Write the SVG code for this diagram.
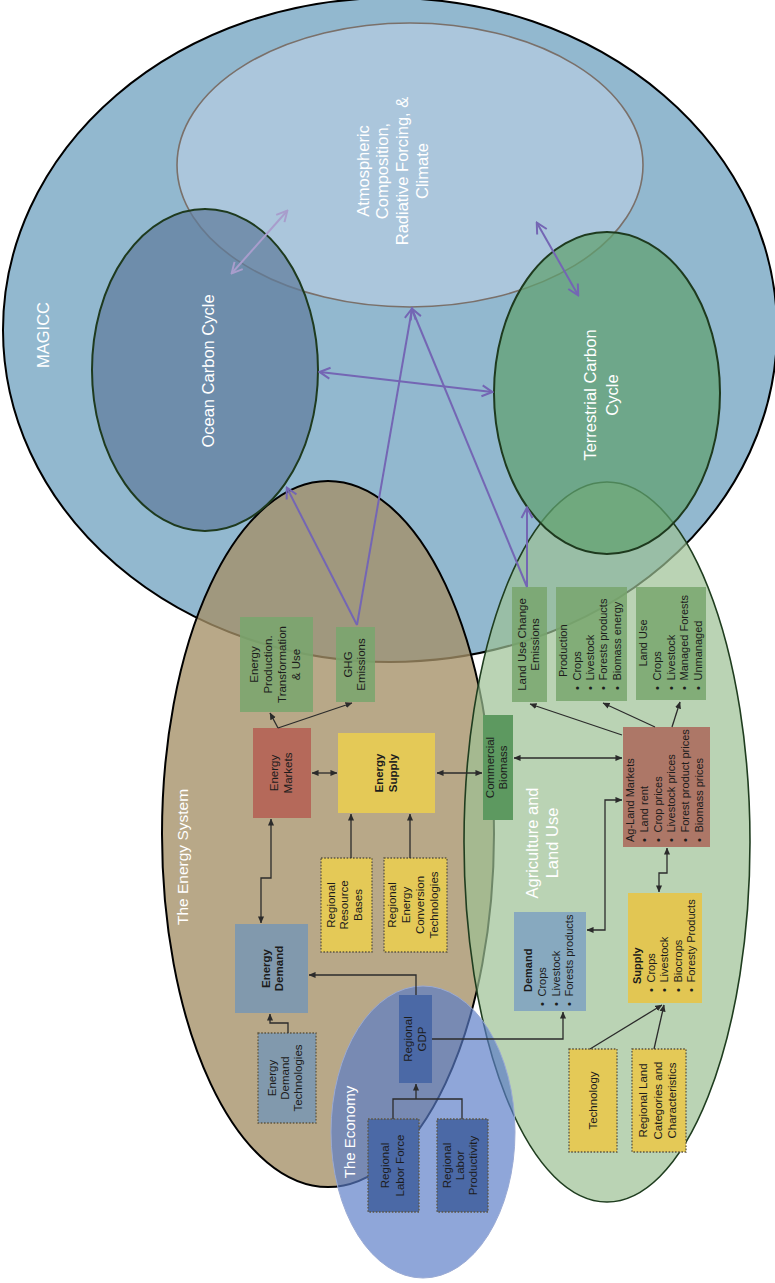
<svg xmlns="http://www.w3.org/2000/svg" width="775" height="1283" viewBox="0 0 775 1283">
<style>
.t{font-family:"Liberation Sans",Arial,Helvetica,sans-serif;fill:#1c1c1c;font-size:11.5px}
.s{font-size:11px}
.b{font-weight:bold}
.w{font-family:"Liberation Sans",Arial,Helvetica,sans-serif;fill:#ffffff;font-size:16.5px}
.c{stroke:#2b2b2b;stroke-width:1.3;fill:none}
.p{stroke:#7466b4;stroke-width:2;fill:none}
.dot{stroke:#5e5640;stroke-width:1.3;stroke-dasharray:1.6 1.6}
.gr{fill:#78a66d;fill-opacity:.85}
.ye{fill:#e4c957}
.bl{fill:#4b69a6}
.gb{fill:#8199ad}
</style>
<defs>
<marker id="ah" viewBox="0 0 8 8" refX="7.5" refY="4" markerWidth="7" markerHeight="7" markerUnits="userSpaceOnUse" orient="auto-start-reverse"><path d="M0,0.5 L8,4 L0,7.5 z" fill="#2b2b2b"/></marker>
<marker id="pa" viewBox="0 0 14 14" refX="12" refY="7" markerWidth="14" markerHeight="14" markerUnits="userSpaceOnUse" orient="auto-start-reverse"><path d="M2,1.5 L12.5,7 L2,12.5" fill="none" stroke="#7466b4" stroke-width="2"/></marker>
<marker id="pl" viewBox="0 0 14 14" refX="12" refY="7" markerWidth="14" markerHeight="14" markerUnits="userSpaceOnUse" orient="auto-start-reverse"><path d="M2,1.5 L12.5,7 L2,12.5" fill="none" stroke="#a89dcc" stroke-width="2"/></marker>
</defs>

<g id="magicc">
<ellipse cx="390" cy="330" rx="387" ry="332" fill="#92b8cf" stroke="#000" stroke-width="2"/>
<text class="w" text-anchor="middle" transform="translate(43,335) rotate(-90)" y="5.5">MAGICC</text>
</g>
<g id="atmosphere">
<ellipse cx="410" cy="165" rx="233" ry="142" fill="#abc6dc" stroke="#7a706a" stroke-width="1.6"/>
<text class="w" text-anchor="middle" transform="translate(392.5,171) rotate(-90)"><tspan x="0" y="-24">Atmospheric</tspan><tspan x="0" y="-4.3">Composition,</tspan><tspan x="0" y="15.4">Radiative Forcing, &amp;</tspan><tspan x="0" y="35.1">Climate</tspan></text>
</g>
<g id="energy-system">
<ellipse cx="328" cy="834" rx="166" ry="353" fill="#a49067" fill-opacity=".78" stroke="#000" stroke-width="2"/>
<text class="w" style="font-size:15.5px" text-anchor="middle" transform="translate(182,857) rotate(-90)" y="5.5">The Energy System</text>
</g>
<g id="agriculture">
<ellipse cx="607" cy="842" rx="143" ry="360" fill="#9cc094" fill-opacity=".7" stroke="#1f3d1f" stroke-width="1.6"/>
<text class="w" text-anchor="middle" transform="translate(542,843) rotate(-90)"><tspan x="0" y="-4.5">Agriculture and</tspan><tspan x="0" y="15.5">Land Use</tspan></text>
</g>
<g id="ocean">
<ellipse cx="205" cy="370" rx="113" ry="161" fill="#607d9c" fill-opacity=".72" stroke="#1e3a1e" stroke-width="2"/>
<text class="w" text-anchor="middle" transform="translate(208,371) rotate(-90)" y="5.5">Ocean Carbon Cycle</text>
</g>
<g id="terrestrial">
<ellipse cx="607" cy="393" rx="113" ry="161" fill="#5fa16f" fill-opacity=".72" stroke="#1e3a1e" stroke-width="2"/>
<text class="w" text-anchor="middle" transform="translate(601,395) rotate(-90)"><tspan x="0" y="-5.5">Terrestrial Carbon</tspan><tspan x="0" y="16.5">Cycle</tspan></text>
</g>
<g id="economy">
<ellipse cx="423" cy="1132" rx="92" ry="146" fill="#5a7cc7" fill-opacity=".68" stroke="#9aaad4" stroke-width="1"/>
<text class="w" style="font-size:15px" text-anchor="middle" transform="translate(350,1132) rotate(-90)" y="5">The Economy</text>
</g>

<g id="energy-production">
<rect x="240" y="617" width="73" height="95" class="gr"/>
<text class="t" text-anchor="middle" transform="translate(276.5,664.5) rotate(-90)"><tspan x="0" y="-18.5">Energy</tspan><tspan x="0" y="-4.5">Production.</tspan><tspan x="0" y="9.5">Transformation</tspan><tspan x="0" y="23.5">&amp; Use</tspan></text>
</g>
<g id="ghg-emissions">
<rect x="336" y="627" width="39" height="75" class="gr"/>
<text class="t" text-anchor="middle" transform="translate(355.5,664.5) rotate(-90)"><tspan x="0" y="-3.5">GHG</tspan><tspan x="0" y="9.5">Emissions</tspan></text>
</g>
<g id="energy-markets">
<rect x="253" y="728" width="58" height="90" fill="#b5695a"/>
<text class="t" text-anchor="middle" transform="translate(282,773) rotate(-90)"><tspan x="0" y="-4">Energy</tspan><tspan x="0" y="10">Markets</tspan></text>
</g>
<g id="energy-supply">
<rect x="338" y="733" width="97" height="80" class="ye"/>
<text class="t b" text-anchor="middle" transform="translate(386.5,773) rotate(-90)"><tspan x="0" y="-3.5">Energy</tspan><tspan x="0" y="10">Supply</tspan></text>
</g>
<g id="regional-resource-bases">
<rect x="321" y="858" width="51" height="94" class="ye dot"/>
<text class="t" text-anchor="middle" transform="translate(346.5,905) rotate(-90)"><tspan x="0" y="-11.5">Regional</tspan><tspan x="0" y="1.5">Resource</tspan><tspan x="0" y="15.5">Bases</tspan></text>
</g>
<g id="regional-energy-conversion">
<rect x="384" y="858" width="63" height="94" class="ye dot"/>
<text class="t" text-anchor="middle" transform="translate(415.5,905) rotate(-90)"><tspan x="0" y="-19.5">Regional</tspan><tspan x="0" y="-5.5">Energy</tspan><tspan x="0" y="8.5">Conversion</tspan><tspan x="0" y="22.5">Technologies</tspan></text>
</g>
<g id="energy-demand">
<rect x="235" y="924" width="73" height="89" class="gb"/>
<text class="t b" text-anchor="middle" transform="translate(271.5,968.5) rotate(-90)"><tspan x="0" y="-1.5">Energy</tspan><tspan x="0" y="11.5">Demand</tspan></text>
</g>
<g id="energy-demand-technologies">
<rect x="258" y="1033" width="58" height="90" class="gb dot"/>
<text class="t" text-anchor="middle" transform="translate(287,1078) rotate(-90)"><tspan x="0" y="-11">Energy</tspan><tspan x="0" y="2">Demand</tspan><tspan x="0" y="15">Technologies</tspan></text>
</g>
<g id="regional-gdp">
<rect x="399" y="995" width="33" height="88" class="bl"/>
<text class="t" text-anchor="middle" transform="translate(415.5,1039) rotate(-90)"><tspan x="0" y="-3.5">Regional</tspan><tspan x="0" y="10.5">GDP</tspan></text>
</g>
<g id="regional-labor-force">
<rect x="368" y="1119" width="51" height="93" class="bl dot"/>
<text class="t" text-anchor="middle" transform="translate(393.5,1165.5) rotate(-90)"><tspan x="0" y="-4.5">Regional</tspan><tspan x="0" y="10.5">Labor Force</tspan></text>
</g>
<g id="regional-labor-productivity">
<rect x="437" y="1119" width="51" height="93" class="bl dot"/>
<text class="t" text-anchor="middle" transform="translate(462.5,1165.5) rotate(-90)"><tspan x="0" y="-11.5">Regional</tspan><tspan x="0" y="1.5">Labor</tspan><tspan x="0" y="14.5">Productivity</tspan></text>
</g>
<g id="land-use-change-emissions">
<rect x="512" y="587" width="35" height="115" class="gr"/>
<text class="t" text-anchor="middle" transform="translate(529.5,644.5) rotate(-90)"><tspan x="0" y="-3.5">Land Use Change</tspan><tspan x="0" y="9.5">Emissions</tspan></text>
</g>
<g id="production">
<rect x="556" y="587" width="71" height="114" class="gr"/>
<g class="t s" transform="translate(556,690) rotate(-90)">
<text x="13" y="11">Production</text>
<text y="25">•<tspan x="9.5">Crops</tspan></text>
<text y="38">•<tspan x="9.5">Livestock</tspan></text>
<text y="51">•<tspan x="9.5">Forests products</tspan></text>
<text y="64.5">•<tspan x="9.5">Biomass energy</tspan></text>
</g>
</g>
<g id="land-use">
<rect x="636" y="587" width="70" height="113" class="gr"/>
<g class="t s" transform="translate(636,690) rotate(-90)">
<text x="47" y="11" text-anchor="middle">Land Use</text>
<text y="25">•<tspan x="9.5">Crops</tspan></text>
<text y="38.5">•<tspan x="9.5">Livestock</tspan></text>
<text y="52">•<tspan x="9.5">Managed Forests</tspan></text>
<text y="65.5">•<tspan x="9.5">Unmanaged</tspan></text>
</g>
</g>
<g id="commercial-biomass">
<rect x="483" y="715" width="30" height="105" fill="#5d9960"/>
<text class="t" text-anchor="middle" transform="translate(498,767.5) rotate(-90)"><tspan x="0" y="-4">Commercial</tspan><tspan x="0" y="9">Biomass</tspan></text>
</g>
<g id="ag-land-markets">
<rect x="623" y="727" width="87" height="120" fill="#ad7767"/>
<g class="t s" transform="translate(623,842) rotate(-90)">
<text y="11">Ag-Land Markets</text>
<text y="24.8">•<tspan x="9.5">Land rent</tspan></text>
<text y="38.6">•<tspan x="9.5">Crop prices</tspan></text>
<text y="52.4">•<tspan x="9.5">Livestock prices</tspan></text>
<text y="66.2">•<tspan x="9.5">Forest product prices</tspan></text>
<text y="80">•<tspan x="9.5">Biomass prices</tspan></text>
</g>
</g>
<g id="ag-demand">
<rect x="514" y="912" width="72" height="99" fill="#87a9bf"/>
<g class="t s" transform="translate(514,1006) rotate(-90)">
<text x="14" y="18" class="b">Demand</text>
<text y="32">•<tspan x="9.5">Crops</tspan></text>
<text y="45.5">•<tspan x="9.5">Livestock</tspan></text>
<text y="59">•<tspan x="9.5">Forests products</tspan></text>
</g>
</g>
<g id="ag-supply">
<rect x="628" y="893" width="74" height="110" fill="#e2c653"/>
<g class="t s" transform="translate(628,992) rotate(-90)">
<text x="8" y="13" class="b">Supply</text>
<text y="26.5">•<tspan x="9.5">Crops</tspan></text>
<text y="40">•<tspan x="9.5">Livestock</tspan></text>
<text y="53.5">•<tspan x="9.5">Biocrops</tspan></text>
<text y="67">•<tspan x="9.5">Foresty Products</tspan></text>
</g>
</g>
<g id="technology">
<rect x="569" y="1049" width="48" height="103" class="ye dot"/>
<text class="t" text-anchor="middle" transform="translate(593,1100.5) rotate(-90)" y="4">Technology</text>
</g>
<g id="regional-land-categories">
<rect x="632" y="1049" width="54" height="103" class="ye dot"/>
<text class="t" text-anchor="middle" transform="translate(659,1100.5) rotate(-90)"><tspan x="0" y="-12">Regional Land</tspan><tspan x="0" y="3">Categories and</tspan><tspan x="0" y="17">Characteristics</tspan></text>
</g>

<g id="connectors">
<path class="c" d="M278,728 L270,713" marker-end="url(#ah)"/>
<path class="c" d="M278,728 L352,703" marker-end="url(#ah)"/>
<path class="c" d="M312,773 L337,773" marker-start="url(#ah)" marker-end="url(#ah)"/>
<path class="c" d="M437,773 L482,773" marker-start="url(#ah)" marker-end="url(#ah)"/>
<path class="c" d="M271,819 L271,878 L261,878 L261,923" marker-start="url(#ah)" marker-end="url(#ah)"/>
<path class="c" d="M351,858 L351,814" marker-end="url(#ah)"/>
<path class="c" d="M410,858 L410,814" marker-end="url(#ah)"/>
<path class="c" d="M416,995 L416,975 L309,975" marker-end="url(#ah)"/>
<path class="c" d="M288,1033 L288,1023 L270,1023 L270,1014" marker-end="url(#ah)"/>
<path class="c" d="M393,1119 L393,1099 L462,1099 L462,1119"/>
<path class="c" d="M416,1099 L416,1084" marker-end="url(#ah)"/>
<path class="c" d="M432,1039 L563,1039 L563,1012" marker-end="url(#ah)"/>
<path class="c" d="M622,735 L530,704" marker-end="url(#ah)"/>
<path class="c" d="M655,727 L603,703" marker-end="url(#ah)"/>
<path class="c" d="M672,727 L680,702" marker-end="url(#ah)"/>
<path class="c" d="M514,758 L622,758" marker-start="url(#ah)" marker-end="url(#ah)"/>
<path class="c" d="M622,800 L605,800 L605,930 L587,930" marker-start="url(#ah)" marker-end="url(#ah)"/>
<path class="c" d="M667,848 L667,873 L659,873 L659,892" marker-start="url(#ah)" marker-end="url(#ah)"/>
<path class="c" d="M590,1049 L662,1005" marker-end="url(#ah)"/>
<path class="c" d="M654,1049 L664,1005" marker-end="url(#ah)"/>
<path d="M232,273 L287,211" fill="none" stroke="#a89dcc" stroke-width="2" marker-start="url(#pl)" marker-end="url(#pl)"/>
<path class="p" d="M537,223 L578,295" marker-start="url(#pa)" marker-end="url(#pa)"/>
<path class="p" d="M320,372 L492,392" marker-start="url(#pa)" marker-end="url(#pa)"/>
<path class="p" d="M357,625 L412,309" marker-end="url(#pa)"/>
<path class="p" d="M357,625 L287,488" marker-end="url(#pa)"/>
<path class="p" d="M527,587 L412,309" marker-end="url(#pa)"/>
<path class="p" d="M527,587 L527,508" marker-end="url(#pa)"/>
</g>
</svg>
